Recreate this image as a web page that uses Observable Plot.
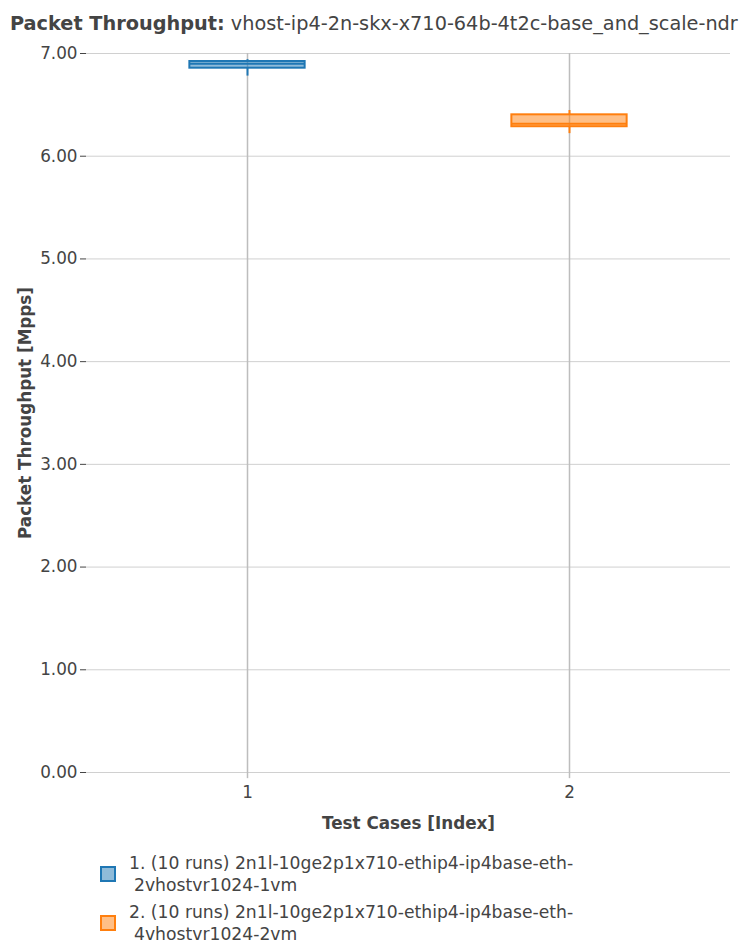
<!DOCTYPE html>
<html>
<head>
<meta charset="utf-8">
<script src="https://cdn.jsdelivr.net/npm/d3@7"></script>
<script src="https://cdn.jsdelivr.net/npm/@observablehq/plot@0.6"></script>
<style>
  html, body { margin: 0; padding: 0; background: #fff; }
  body { font-family: "DejaVu Sans", sans-serif; color: #444; }
  #wrap { position: relative; width: 743px; height: 947px; }
  #title { position: absolute; left: 10px; top: 12px; font-size: 19.3px; white-space: nowrap; color: #444; }
  #title b { font-weight: bold; }
  #chart { position: absolute; left: 0; top: 0; }
  #legend { position: absolute; left: 99px; top: 852px; font-size: 17.2px; color: #444; }
  .item { position: relative; padding-left: 30px; line-height: 22px; margin-bottom: 5px; }
  .item .sw { position: absolute; left: 1px; top: 14px; width: 12px; height: 12px; border: 2px solid; }
  .item .l2 { padding-left: 5px; }
</style>
</head>
<body>
<div id="wrap">
  <div id="chart"></div>
  <div id="title"><b>Packet Throughput:</b> vhost-ip4-2n-skx-x710-64b-4t2c-base_and_scale-ndr</div>
  <div id="legend"></div>
</div>
<script>
// Data
const caseIndex = [1, 2];
const labelLine1 = [
  "1. (10 runs) 2n1l-10ge2p1x710-ethip4-ip4base-eth-",
  "2. (10 runs) 2n1l-10ge2p1x710-ethip4-ip4base-eth-"
];
const labelLine2 = ["2vhostvr1024-1vm", "4vhostvr1024-2vm"];
const minVal = [6.78, 6.22];
const q1Val = [6.857, 6.287];
const medianVal = [6.90, 6.315];
const q3Val = [6.922, 6.403];
const maxVal = [6.94, 6.445];
const colors = ["#1f77b4", "#ff7f0e"];
const yTicks = [0, 1, 2, 3, 4, 5, 6, 7];

const boxes = caseIndex.map((idx, i) => ({
  idx, min: minVal[i], q1: q1Val[i], median: medianVal[i], q3: q3Val[i], max: maxVal[i], color: colors[i]
}));
const half = 0.179;

const chart = Plot.plot({
  width: 743,
  height: 845,
  marginTop: 53,
  marginBottom: 73,
  marginLeft: 86,
  marginRight: 13,
  style: { fontFamily: "DejaVu Sans, sans-serif", fontSize: "16.8px", color: "#444", background: "transparent" },
  x: { domain: [0.5, 2.5], label: null },
  y: { domain: [0, 7], label: null },
  marks: [
    Plot.gridY(yTicks, { stroke: "#d0d0d0", strokeOpacity: 1 }),
    Plot.gridX(caseIndex, { stroke: "#bdbdbd", strokeOpacity: 1, strokeWidth: 1.5, y1: 0, y2: 7 }),
    Plot.ruleX(caseIndex, { x: d => d, y1: 0, y2: -0.06, stroke: "#bdbdbd", strokeWidth: 1.5 }),
    Plot.axisY({ ticks: yTicks, tickFormat: d => d.toFixed(2), tickSize: 6, tickPadding: 3, stroke: "#444", label: null }),
    Plot.axisX({ ticks: caseIndex, tickFormat: d => String(d), tickSize: 0, tickPadding: 14, label: null }),
    Plot.ruleX(boxes, { x: "idx", y1: "min", y2: "q1", stroke: "color", strokeWidth: 2 }),
    Plot.ruleX(boxes, { x: "idx", y1: "q3", y2: "max", stroke: "color", strokeWidth: 2 }),
    Plot.rect(boxes, { x1: d => d.idx - half, x2: d => d.idx + half, y1: "q1", y2: "q3", fill: "color", fillOpacity: 0.5, stroke: "color", strokeWidth: 2 }),
    Plot.ruleY(boxes, { y: "median", x1: d => d.idx - half, x2: d => d.idx + half, stroke: "color", strokeWidth: 2 }),
    Plot.text(["Test Cases [Index]"], { frameAnchor: "bottom", dy: 56, fontWeight: "bold", fontSize: 16.8, fill: "#444" }),
    Plot.text(["Packet Throughput [Mpps]"], { frameAnchor: "left", dx: -61, rotate: -90, textAnchor: "middle", fontWeight: "bold", fontSize: 16.8, fill: "#444" })
  ]
});
document.getElementById("chart").appendChild(chart);

const legend = document.getElementById("legend");
caseIndex.forEach((idx, i) => {
  const item = document.createElement("div");
  item.className = "item";
  const sw = document.createElement("span");
  sw.className = "sw";
  sw.style.borderColor = colors[i];
  sw.style.background = d3.color(colors[i]).copy({ opacity: 0.5 }).formatRgb();
  item.appendChild(sw);
  const l1 = document.createElement("div");
  l1.textContent = labelLine1[i];
  const l2 = document.createElement("div");
  l2.className = "l2";
  l2.textContent = labelLine2[i];
  item.appendChild(l1);
  item.appendChild(l2);
  legend.appendChild(item);
});
</script>
</body>
</html>
